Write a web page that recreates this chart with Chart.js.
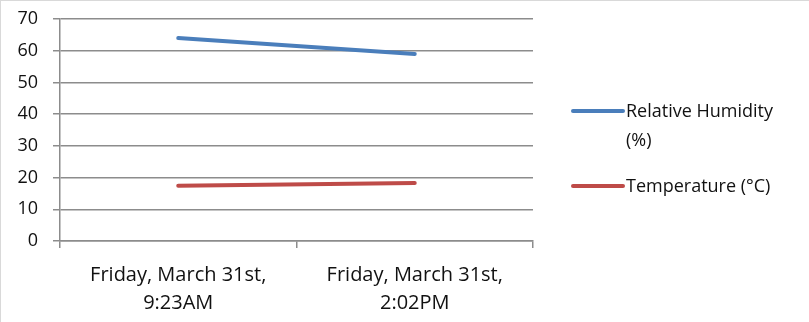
<!DOCTYPE html>
<html>
<head>
<meta charset="utf-8">
<script src="https://cdn.jsdelivr.net/npm/chart.js@4/dist/chart.umd.min.js"></script>
<style>
  html, body { margin: 0; padding: 0; background: #fff; }
  #wrap { position: relative; width: 809px; height: 322px; box-sizing: border-box; border-left: 1px solid #d9d9d9; border-top: 1px solid #d9d9d9; overflow: hidden; }
  canvas { display: block; }
</style>
</head>
<body>
<div id="wrap"><canvas id="c" width="808" height="329"></canvas></div>
<script>
const categories = [
  ["Friday, March 31st,", "9:23AM"],
  ["Friday, March 31st,", "2:02PM"]
];
const humidity = [64, 59];
const temperature = [17.4, 18.3];
const seriesNames = [["Relative Humidity", "(%)"], ["Temperature (°C)"]];
const seriesColors = ["#4a7ebb", "#be4b48"];

const FONT = "'Open Sans', sans-serif";

// Legend on the right: a line sample followed by wrapped series text
const sideLegend = {
  id: "sideLegend",
  afterDraw(chart) {
    const ctx = chart.ctx;
    const x0 = chart.chartArea.right + 40;
    const rows = [110, 185];
    ctx.save();
    ctx.font = "18px " + FONT;
    ctx.fillStyle = "#111";
    ctx.textBaseline = "middle";
    seriesNames.forEach((lines, i) => {
      const y = rows[i];
      ctx.strokeStyle = seriesColors[i];
      ctx.lineWidth = 4;
      ctx.lineCap = "round";
      ctx.beginPath();
      ctx.moveTo(x0, y);
      ctx.lineTo(x0 + 50, y);
      ctx.stroke();
      lines.forEach((t, j) => ctx.fillText(t, x0 + 53, y + 1 + j * 29));
    });
    ctx.restore();
  }
};

new Chart(document.getElementById("c"), {
  type: "line",
  data: {
    labels: categories,
    datasets: [
      { label: seriesNames[0].join(" "), data: humidity, borderColor: seriesColors[0], borderWidth: 4, pointRadius: 0, borderCapStyle: "round" },
      { label: seriesNames[1].join(" "), data: temperature, borderColor: seriesColors[1], borderWidth: 4, pointRadius: 0, borderCapStyle: "round" }
    ]
  },
  options: {
    responsive: false,
    animation: false,
    layout: { padding: { left: 1.4, top: 18, right: 276, bottom: 0 } },
    plugins: { legend: { display: false }, tooltip: { enabled: false } },
    scales: {
      x: {
        offset: true,
        grid: { offset: true, drawOnChartArea: false, drawTicks: true, tickLength: 7, color: "#8c8c8c", lineWidth: 1.5 },
        border: { color: "#8c8c8c", width: 1.5 },
        ticks: { color: "#111", font: { family: FONT, size: 20, lineHeight: 1.4 }, padding: 13, maxRotation: 0, autoSkip: false }
      },
      y: {
        min: 0, max: 70,
        ticks: { stepSize: 10, color: "#111", font: { family: FONT, size: 18, lineHeight: 0.333 }, padding: 15 },
        grid: { color: "#8c8c8c", lineWidth: 1.5, tickLength: 7 },
        border: { color: "#8c8c8c", width: 1.5 }
      }
    }
  },
  plugins: [sideLegend]
});
</script>
</body>
</html>
